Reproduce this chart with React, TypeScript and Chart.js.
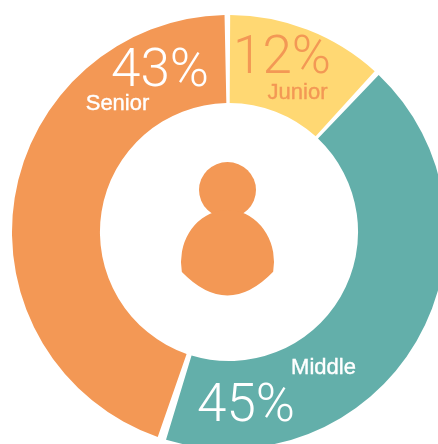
import { useEffect, useRef } from "react";
import { Chart, registerables } from "chart.js";

Chart.register(...registerables);

const categories = ["Junior", "Middle", "Senior"];
const sliceValues = [11.8, 43.2, 45];
const percentLabels = ["12%", "45%", "43%"];
const sliceColors = ["#FFD873", "#63AFAA", "#F39855"];

const textPlugin = {
  id: "overlay",
  afterDraw(chart: any) {
    const c = chart.ctx;
    c.save();
    // person icon
    c.fillStyle = "#F39855";
    c.beginPath();
    c.ellipse(227.5, 190, 28.5, 28, 0, 0, Math.PI * 2);
    c.fill();
    c.beginPath();
    c.ellipse(227.5, 262, 46.5, 52, 0, Math.PI * 0.94, Math.PI * 2.06);
    c.quadraticCurveTo(227.5, 319, 181.9, 272);
    c.closePath();
    c.fill();

    c.textBaseline = "alphabetic";
    c.textAlign = "center";
    const big = "300 53px Roboto, 'Liberation Sans', sans-serif";
    const small = "22px 'Liberation Sans', sans-serif";
    c.font = big;
    c.fillStyle = "#F39855";
    c.fillText(percentLabels[0], 282, 73);
    c.fillStyle = "#FFFFFF";
    c.fillText(percentLabels[1], 246, 421);
    c.fillText(percentLabels[2], 160, 86);
    c.font = small;
    c.lineWidth = 0.4;
    c.fillStyle = "#F39855";
    c.strokeStyle = "#F39855";
    c.fillText(categories[0], 297.5, 99);
    c.strokeText(categories[0], 297.5, 99);
    c.fillStyle = "#FFFFFF";
    c.strokeStyle = "#FFFFFF";
    c.fillText(categories[1], 323.5, 374);
    c.strokeText(categories[1], 323.5, 374);
    c.fillText(categories[2], 117.5, 110);
    c.strokeText(categories[2], 117.5, 110);
    c.restore();
  },
};

export default function App() {
  const ref = useRef<HTMLCanvasElement>(null);
  useEffect(() => {
    document.body.style.margin = "0";
    document.body.style.overflow = "hidden";
    const chart = new Chart(ref.current!, {
      type: "doughnut",
      data: {
        labels: categories,
        datasets: [
          {
            data: sliceValues,
            backgroundColor: sliceColors,
            borderWidth: 0,
            spacing: 5,
          },
        ],
      },
      options: {
        responsive: false,
        animation: false,
        cutout: "59%",
        layout: { padding: 12 },
        plugins: { legend: { display: false }, tooltip: { enabled: false } },
      },
      plugins: [textPlugin],
    } as any);
    return () => chart.destroy();
  }, []);
  return (
    <div style={{ width: 438, height: 444, overflow: "hidden", position: "relative", background: "#fff" }}>
      <canvas ref={ref} width={458} height={464} style={{ position: "absolute", left: 0, top: 0 }} />
    </div>
  );
}
